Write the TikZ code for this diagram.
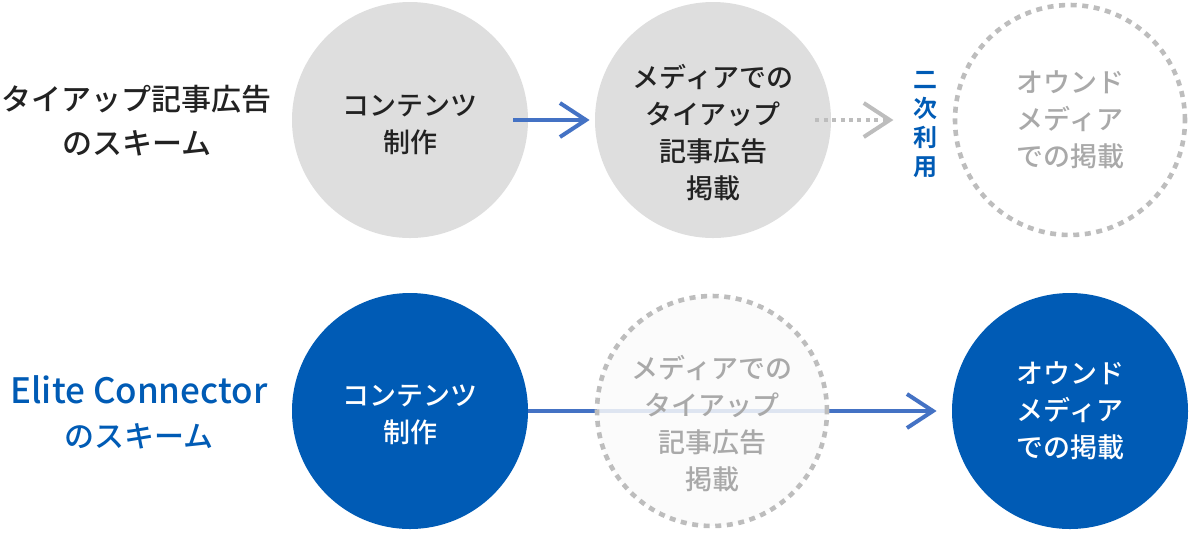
\documentclass[tikz,border=0pt]{standalone}
\usepackage{fontspec}
\setmainfont{Noto Sans CJK JP}[UprightFont=* Medium, BoldFont=* Bold]
\usetikzlibrary{arrows.meta}

\definecolor{disc}{HTML}{DEDEDE}
\definecolor{brand}{HTML}{005BB5}
\definecolor{flow}{HTML}{4472C4}
\definecolor{dots}{HTML}{BDBDBD}
\definecolor{faded}{HTML}{A9A9A9}
\definecolor{ink}{HTML}{222222}

\begin{document}
\begin{tikzpicture}[x=0.5pt,y=0.5pt,
    disk/.style={circle, minimum size=118pt, inner sep=0pt},
    ghost/.style={circle, minimum size=115pt, inner sep=0pt, draw=dots, line width=2.3pt, dash pattern=on 3pt off 2.8pt},
    words/.style={align=center, font=\fontsize{13.5}{18.5}\selectfont},
    scheme/.style={align=center, font=\fontsize{15}{22}\selectfont},
    flowline/.style={draw=flow, line width=2pt, -{Straight Barb[length=13pt,width=17pt,line width=2pt]}}]
    \useasboundingbox (0,0) rectangle (1190,-532);

    %tie-up scheme
    \node[scheme, text=ink] (s1) at (137,-121) {タイアップ記事広告\\のスキーム};
    \node[disk, fill=disc] (c1) at (410,-120) {};
    \node[disk, fill=disc] (c2) at (713,-120) {};
    \node[ghost, fill=white] (c3) at (1070,-120) {};
    \node[words, text=ink] at ([yshift=-2.5pt]c1.center) {コンテンツ\\制作};
    \node[words, text=ink] at ([yshift=-6.5pt]c2.center) {メディアでの\\タイアップ\\記事広告\\掲載};
    \node[words, text=faded] at (c3.center) {オウンド\\メディア\\での掲載};
    \draw[flowline] ([xshift=-7.5pt]c1.east) -- ([xshift=-2.5pt]c2.west);
    \draw[draw=dots, line width=2pt, dash pattern=on 2pt off 2.2pt,
          -{Straight Barb[length=13pt,width=17pt,line width=2pt]}]
          ([xshift=-8pt]c2.east) -- ([xshift=31pt]c2.east);
    \node[align=center, text=brand, font=\fontsize{12}{14.5}\selectfont\bfseries] (reuse) at (925,-125) {二\\次\\利\\用};

    %Elite Connector scheme
    \node[scheme, text=brand] (s2) at (139,-412) {{\fontsize{17.5}{22}\selectfont Elite Connector}\\のスキーム};
    \node[disk, fill=brand] (b1) at (410,-411) {};
    \node[disk, fill=brand] (b3) at (1070,-411) {};
    \draw[flowline] (b1.east) -- ([xshift=-7.5pt]b3.west);
    \begin{scope}[fill opacity=.85, text opacity=1]
    \node[ghost, fill=white!98!black] (b2) at (712,-411) {};
    \end{scope}
    \node[words, text=white] at ([yshift=-2pt]b1.center) {コンテンツ\\制作};
    \node[words, text=faded] at ([yshift=-6.5pt]b2.center) {メディアでの\\タイアップ\\記事広告\\掲載};
    \node[words, text=white] at (b3.center) {オウンド\\メディア\\での掲載};
\end{tikzpicture}
\end{document}
